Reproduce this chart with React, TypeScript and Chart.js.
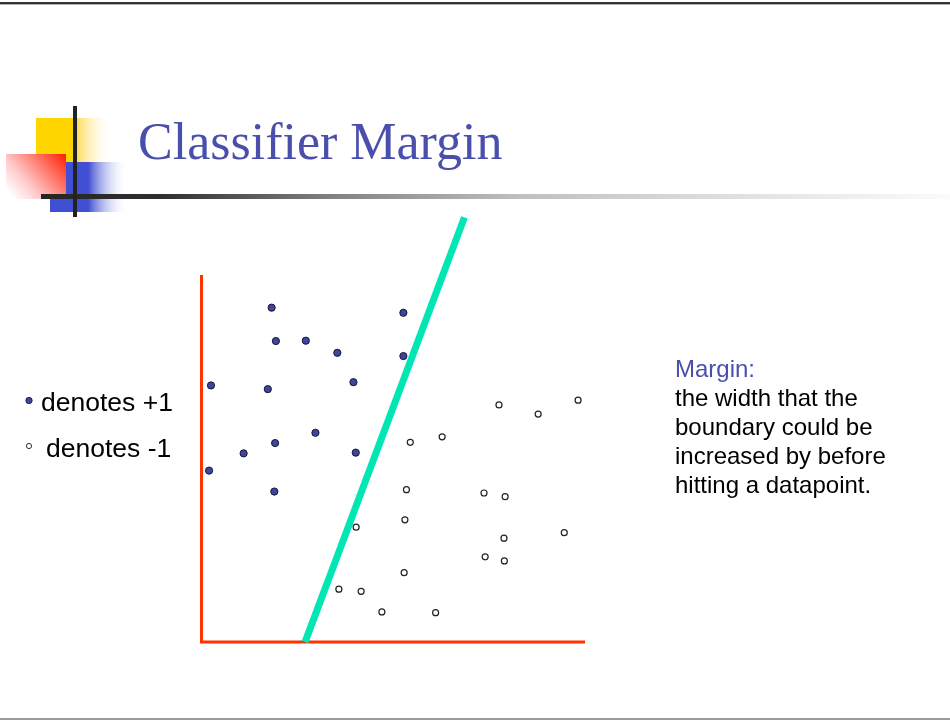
import React, { useEffect, useRef } from "react";
import { Chart, registerables } from "chart.js";

Chart.register(...registerables);

// ---- data (arbitrary units, x 0..10, y 0..10) ----
const positiveX = [1.84, 5.27, 1.95, 2.73, 3.55, 5.27, 0.26, 1.74, 3.97, 2.98, 1.93, 1.11, 4.03, 0.21, 1.91];
const positiveY = [9.11, 8.97, 8.2, 8.21, 7.88, 7.79, 6.99, 6.89, 7.08, 5.7, 5.42, 5.14, 5.16, 4.67, 4.1];
const negativeX = [7.76, 8.78, 9.82, 5.45, 6.28, 5.35, 7.37, 7.92, 4.04, 5.31, 9.46, 7.89, 7.4, 7.9, 5.29, 3.59, 4.17, 4.71, 6.11];
const negativeY = [6.46, 6.21, 6.59, 5.44, 5.59, 4.15, 4.06, 3.96, 3.13, 3.33, 2.98, 2.83, 2.32, 2.21, 1.89, 1.44, 1.38, 0.82, 0.8];
const boundaryX = [2.71, 6.86];
const boundaryY = [0, 11.57];

const titleText = "Classifier Margin";
const legendLabels = ["denotes +1", "denotes -1"];
const marginTitle = "Margin:";
const marginLines = ["the width that the", "boundary could be", "increased by before", "hitting a datapoint."];

const toPoints = (xs: number[], ys: number[]) => xs.map((x, i) => ({ x, y: ys[i] }));

const slidePlugin = {
  id: "slideDecor",
  beforeDraw(chart: any) {
    const ctx = chart.ctx as CanvasRenderingContext2D;
    const W = chart.width;
    ctx.save();
    ctx.fillStyle = "#ffffff";
    ctx.fillRect(0, 0, W, chart.height);

    // top / bottom frame lines
    ctx.fillStyle = "#333333";
    ctx.fillRect(0, 2, W, 2);
    ctx.fillStyle = "#b0b0b0";
    ctx.fillRect(0, 4, W, 1);
    ctx.fillStyle = "#9a9a9a";
    ctx.fillRect(0, 718, W, 2);

    // yellow square
    let g = ctx.createLinearGradient(36, 0, 112, 0);
    g.addColorStop(0, "#ffd500");
    g.addColorStop(0.5, "#ffd500");
    g.addColorStop(0.56, "#ffde6a");
    g.addColorStop(1, "rgba(255,255,255,0)");
    ctx.fillStyle = g;
    ctx.fillRect(36, 118, 76, 44);

    // blue square
    g = ctx.createLinearGradient(50, 0, 128, 0);
    g.addColorStop(0, "#4150d2");
    g.addColorStop(0.49, "#4150d2");
    g.addColorStop(1, "rgba(255,255,255,0)");
    ctx.fillStyle = g;
    ctx.fillRect(50, 162, 78, 50);

    // red square
    g = ctx.createLinearGradient(66, 154, 14, 199);
    g.addColorStop(0, "#ff1e00");
    g.addColorStop(0.3, "#ff6a5a");
    g.addColorStop(0.7, "#ffcaca");
    g.addColorStop(1, "#ffffff");
    ctx.fillStyle = g;
    ctx.fillRect(6, 154, 60, 45);

    // horizontal bar
    g = ctx.createLinearGradient(41, 0, 950, 0);
    g.addColorStop(0, "#262626");
    g.addColorStop(0.13, "#2e2e2e");
    g.addColorStop(0.32, "#828282");
    g.addColorStop(0.53, "#c0c0c0");
    g.addColorStop(0.78, "#e2e2e2");
    g.addColorStop(1, "#fbfbfb");
    ctx.fillStyle = g;
    ctx.fillRect(41, 194, 909, 5);

    // vertical bar
    ctx.fillStyle = "#222222";
    ctx.fillRect(73, 106, 4, 111);

    // legend markers
    ctx.beginPath();
    ctx.arc(29, 400.5, 3.2, 0, Math.PI * 2);
    ctx.fillStyle = "#40449a";
    ctx.fill();
    ctx.lineWidth = 0.8;
    ctx.strokeStyle = "#15153a";
    ctx.stroke();
    ctx.beginPath();
    ctx.arc(29, 446, 2.6, 0, Math.PI * 2);
    ctx.fillStyle = "#ffffff";
    ctx.fill();
    ctx.lineWidth = 1;
    ctx.strokeStyle = "#333333";
    ctx.stroke();
    ctx.restore();
  },
  beforeDatasetsDraw(chart: any) {
    const ctx = chart.ctx as CanvasRenderingContext2D;
    const xs = chart.scales.x;
    const ys = chart.scales.y;
    const x0 = xs.getPixelForValue(0) + 0.5;
    const x1 = xs.getPixelForValue(10);
    const y0 = ys.getPixelForValue(0);
    const y1 = ys.getPixelForValue(10);
    ctx.save();
    ctx.strokeStyle = "#ff3300";
    ctx.lineWidth = 3;
    ctx.lineCap = "butt";
    ctx.beginPath();
    ctx.moveTo(x0, y1);
    ctx.lineTo(x0, y0 + 1.5);
    ctx.moveTo(x0 - 1.5, y0);
    ctx.lineTo(x1, y0);
    ctx.stroke();
    ctx.restore();
  },
};

export default function App() {
  const ref = useRef<HTMLCanvasElement | null>(null);
  useEffect(() => {
    if (!ref.current) return;
    const chart = new Chart(ref.current, {
      type: "scatter",
      data: {
        datasets: [
          {
            label: "boundary",
            type: "line",
            data: toPoints(boundaryX, boundaryY),
            borderColor: "#00e6b4",
            borderWidth: 7,
            pointRadius: 0,
            showLine: true,
            fill: false,
            clip: false,
            order: 5,
          } as any,
          {
            label: "+1",
            data: toPoints(positiveX, positiveY),
            backgroundColor: "#40449a",
            borderColor: "#15153a",
            borderWidth: 1,
            pointRadius: 3.6,
            order: 1,
          },
          {
            label: "-1",
            data: toPoints(negativeX, negativeY),
            backgroundColor: "#ffffff",
            borderColor: "#222222",
            borderWidth: 1.2,
            pointRadius: 3,
            order: 1,
          },
        ],
      },
      options: {
        animation: false,
        responsive: false,
        devicePixelRatio: 1,
        events: [],
        layout: { padding: { left: 201, right: 365, top: 275, bottom: 79 } },
        scales: {
          x: { type: "linear", min: 0, max: 10, display: false },
          y: { type: "linear", min: 0, max: 10, display: false },
        },
        plugins: { legend: { display: false }, tooltip: { enabled: false } },
      },
      plugins: [slidePlugin],
    });
    return () => chart.destroy();
  }, []);

  const sans = "'Liberation Sans', Arial, sans-serif";
  const abs = (left: number, top: number): React.CSSProperties => ({
    position: "absolute",
    left,
    top,
    whiteSpace: "pre",
    margin: 0,
  });

  return (
    <div style={{ position: "absolute", left: 0, top: 0, width: 950, height: 721, overflow: "hidden", background: "#fff" }}>
      <canvas ref={ref} width={950} height={721} style={{ position: "absolute", left: 0, top: 0, width: 950, height: 721 }} />
      <div
        style={{
          ...abs(138, 115.5),
          fontFamily: "'Liberation Serif', 'Times New Roman', serif",
          fontSize: 52,
          lineHeight: "52px",
          color: "#4a4fad",
        }}
      >
        {titleText}
      </div>
      <div style={{ ...abs(41, 388.5), fontFamily: sans, fontSize: 26.5, lineHeight: "26.5px", color: "#000" }}>
        {legendLabels[0]}
      </div>
      <div style={{ ...abs(46, 434.5), fontFamily: sans, fontSize: 26.5, lineHeight: "26.5px", color: "#000" }}>
        {legendLabels[1]}
      </div>
      <div style={{ ...abs(675, 354), fontFamily: sans, fontSize: 24, lineHeight: "29px", color: "#000" }}>
        <div style={{ color: "#4a4fad" }}>{marginTitle}</div>
        {marginLines.map((l, i) => (
          <div key={i}>{l}</div>
        ))}
      </div>
    </div>
  );
}
